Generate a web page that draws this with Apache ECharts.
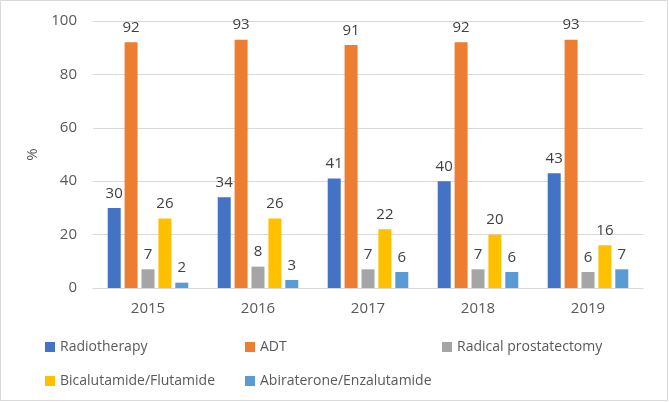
<!DOCTYPE html>
<html>
<head>
<meta charset="utf-8">
<script src="https://cdn.jsdelivr.net/npm/echarts@6/dist/echarts.min.js"></script>
<style>
html,body{margin:0;padding:0;background:#fff;}
#chart{width:669px;height:402px;}
</style>
</head>
<body>
<div id="chart"></div>
<script>
var years = ['2015', '2016', '2017', '2018', '2019'];
var radiotherapy = [30, 34, 41, 40, 43];
var adt = [92, 93, 91, 92, 93];
var radical = [7, 8, 7, 7, 6];
var bicalutamide = [26, 26, 22, 20, 16];
var abiraterone = [2, 3, 6, 6, 7];

var chart = echarts.init(document.getElementById('chart'));
var font = 'Open Sans';

function bar(name, data, color) {
    return {
        name: name,
        type: 'bar',
        data: data,
        barWidth: 13,
        barGap: '30%',
        itemStyle: { color: color },
        label: {
            show: true,
            position: 'top',
            distance: 7,
            color: '#404040',
            fontSize: 15,
            fontFamily: font
        }
    };
}

function legend(items, left) {
    return {
        data: items,
        orient: 'vertical',
        left: left,
        top: 335,
        itemWidth: 10,
        itemHeight: 10,
        itemGap: 20,
        icon: 'rect',
        textStyle: { color: '#595959', fontSize: 14, fontFamily: font }
    };
}

var option = {
    animation: false,
    graphic: [{
        type: 'rect',
        shape: { x: 0.5, y: 0.5, width: 667, height: 400 },
        style: { fill: 'none', stroke: '#d9d9d9', lineWidth: 1 }
    }],
    legend: [
        legend(['Radiotherapy', 'Bicalutamide/Flutamide'], 40),
        legend(['ADT', 'Abiraterone/Enzalutamide'], 240),
        legend(['Radical prostatectomy'], 437)
    ],
    grid: { left: 93, right: 26, top: 21, bottom: 114 },
    xAxis: {
        type: 'category',
        data: years,
        axisLine: { lineStyle: { color: '#d9d9d9' } },
        axisTick: { show: false },
        axisLabel: { color: '#595959', fontSize: 15, fontFamily: font, margin: 13 }
    },
    yAxis: {
        type: 'value',
        min: 0,
        max: 100,
        interval: 20,
        name: '%',
        nameLocation: 'middle',
        nameGap: 48,
        nameTextStyle: { color: '#595959', fontSize: 15, fontFamily: font },
        axisLine: { show: false },
        axisTick: { show: false },
        axisLabel: { color: '#595959', fontSize: 15, fontFamily: font, margin: 16 },
        splitLine: { lineStyle: { color: '#d9d9d9' } }
    },
    series: [
        bar('Radiotherapy', radiotherapy, '#4472C4'),
        bar('ADT', adt, '#ED7D31'),
        bar('Radical prostatectomy', radical, '#A5A5A5'),
        bar('Bicalutamide/Flutamide', bicalutamide, '#FFC000'),
        bar('Abiraterone/Enzalutamide', abiraterone, '#5B9BD5')
    ]
};
chart.setOption(option);
</script>
</body>
</html>
